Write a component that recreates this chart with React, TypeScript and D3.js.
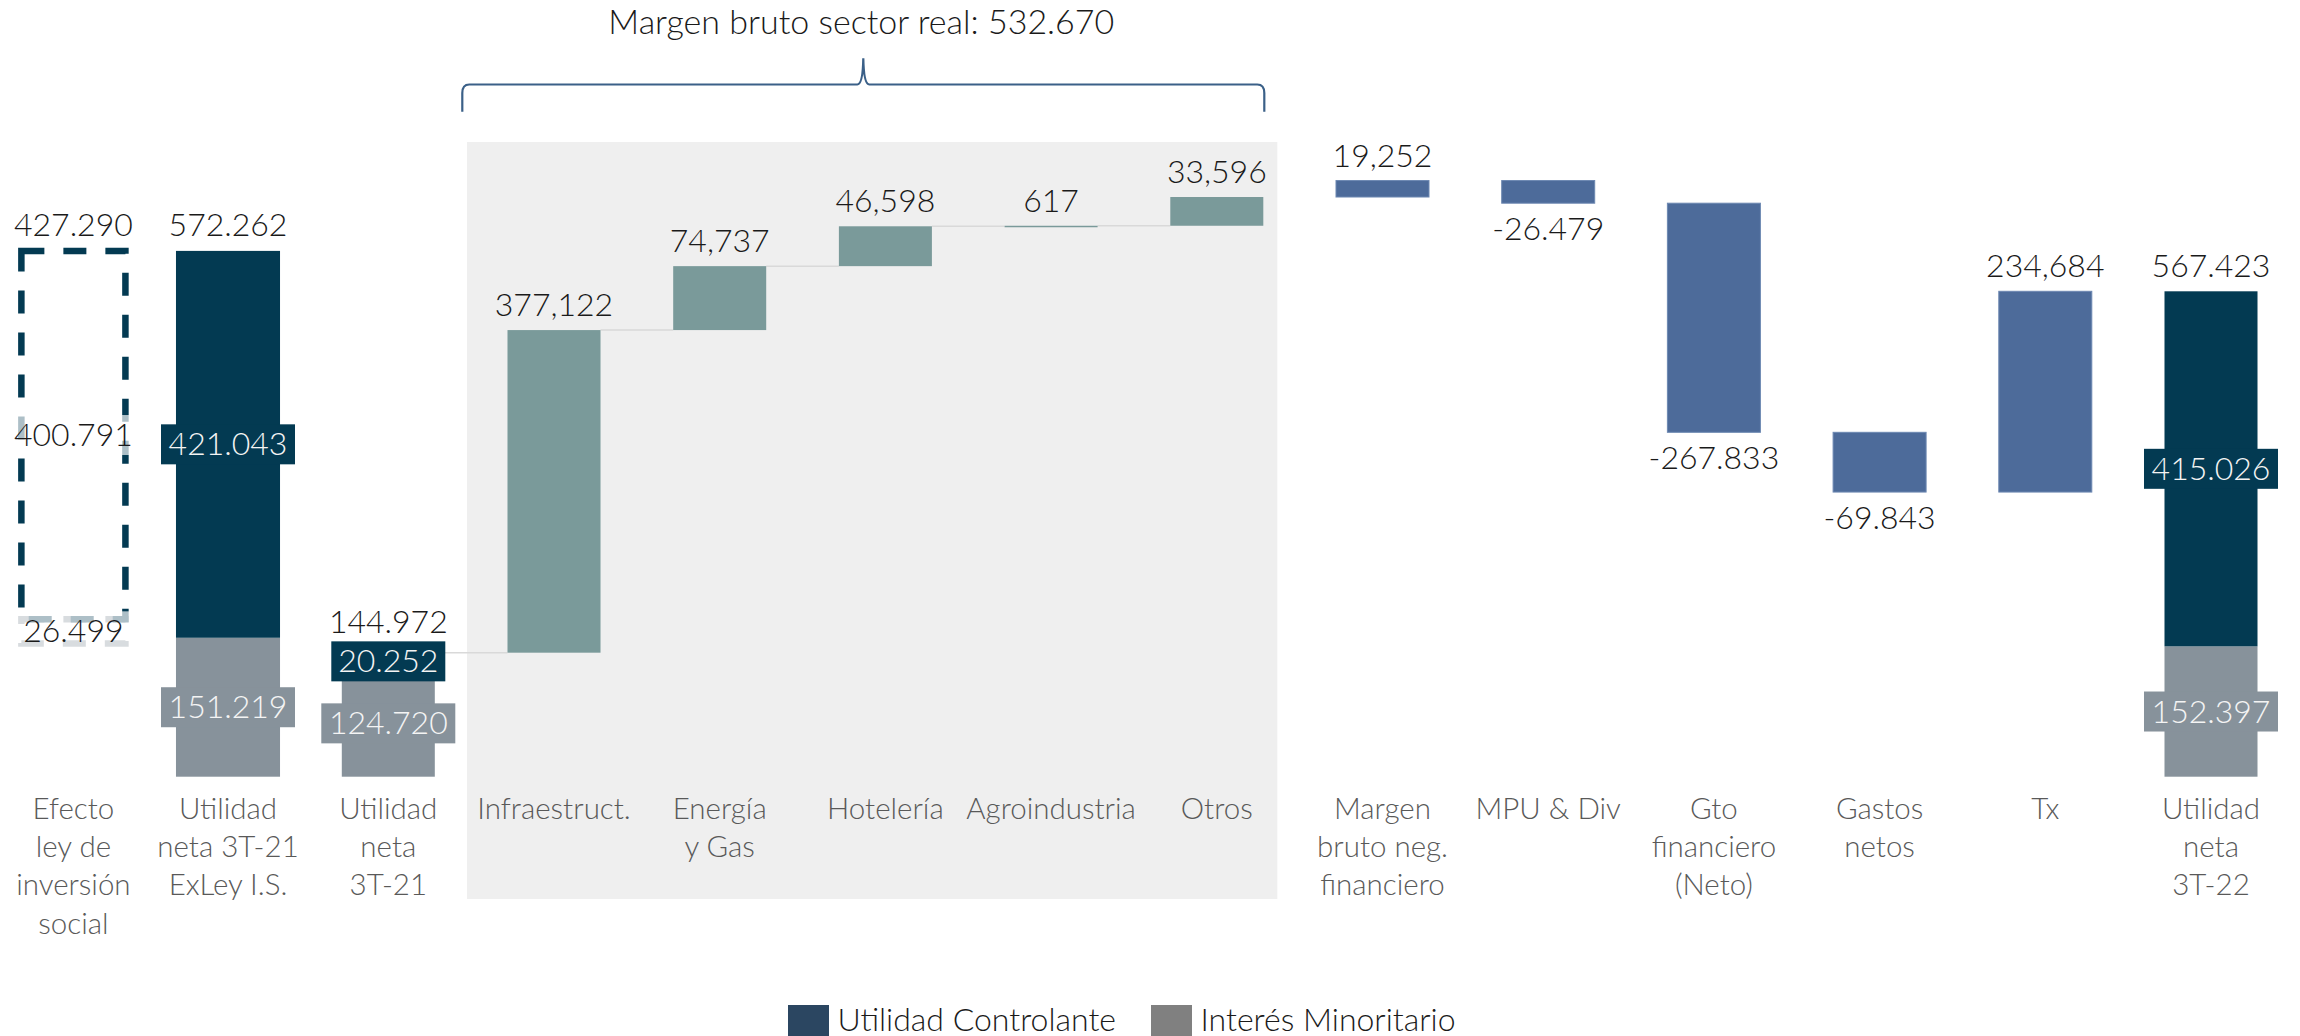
import React from "react";
import * as d3 from "d3";

// ---------- data ----------
const stackedCats = [
  "Efecto\nley de\ninversión\nsocial",
  "Utilidad\nneta 3T-21\nExLey I.S.",
  "Utilidad\nneta\n3T-21",
  "Utilidad\nneta\n3T-22",
];
const controlante = [400791, 421043, 20252, 415026];
const minoritario = [26499, 151219, 124720, 152397];

const sectorCats = ["Infraestruct.", "Energía\ny Gas", "Hotelería", "Agroindustria", "Otros"];
const sectorDeltas = [377122, 74737, 46598, 617, 33596];

const finCats = ["Margen\nbruto neg.\nfinanciero", "MPU & Div", "Gto\nfinanciero\n(Neto)", "Gastos\nnetos", "Tx"];
const finDeltas = [19252, -26479, -267833, -69843, 234684];

const legendItems = ["Utilidad Controlante", "Interés Minoritario"];
const titlePrefix = "Margen bruto sector real: ";

// ---------- style ----------
const W = 2300;
const H = 1036;
const FONT = "Lato, 'Open Sans', 'Noto Sans', sans-serif";
const C_DARK = "#033a52";
const C_GRAY = "#87929b";
const C_TEAL = "#7a9a9a";
const C_BLUE = "#4d6b9a";
const C_PANEL = "#efefef";
const C_CONN = "#d9d9d9";
const C_BRACE = "#3b6088";
const C_TEXT = "#1a1a1a";
const C_CAT = "#595959";
const LEG_COLORS = ["#2b4661", "#808080"];

const fmtDot = d3
  .formatLocale({ decimal: ",", thousands: ".", grouping: [3], currency: ["", ""], minus: "-" })
  .format(",d");
const fmtComma = d3
  .formatLocale({ decimal: ".", thousands: ",", grouping: [3], currency: ["", ""], minus: "-" })
  .format(",d");

const BASE_Y = 776.7;

export default function App() {
  // y scales (left panel drawn on its own scale as in the source slide)
  const exLeyTotal = controlante[1] + minoritario[1];
  const finalTotal = controlante[3] + minoritario[3];
  const yLeft = d3.scaleLinear().domain([0, exLeyTotal]).range([BASE_Y, 250.9]);
  const yMain = d3.scaleLinear().domain([0, finalTotal]).range([BASE_Y, 291.3]);

  const leftCats = [stackedCats[0], stackedCats[1]];
  const mainCats = [stackedCats[2], ...sectorCats, ...finCats, stackedCats[3]];
  const xLeft = d3.scaleBand<string>().domain(leftCats).range([-3.9, 305.3]).paddingInner(0.327).paddingOuter(0.1635);
  const xMain = d3
    .scaleBand<string>()
    .domain(mainCats)
    .range([305.45, 2293.85])
    .paddingInner(0.4387)
    .paddingOuter(0.21935);

  const bwL = xLeft.bandwidth();
  const bwM = xMain.bandwidth();

  // waterfall
  const start = controlante[2] + minoritario[2];
  let running = start;
  const sectorBars = sectorCats.map((c, i) => {
    const v0 = running;
    running += sectorDeltas[i];
    return { cat: c, v0, v1: running, delta: sectorDeltas[i] };
  });
  const sectorTotal = d3.sum(sectorDeltas);
  const finBars = finCats.map((c, i) => {
    const v0 = running;
    running += finDeltas[i];
    return { cat: c, v0, v1: running, delta: finDeltas[i] };
  });

  const boxW = (s: string) => 14 + 20 * s.replace(/[^0-9]/g, "").length;
  const BOX_H = 40;

  const elements: React.ReactNode[] = [];

  // panel background
  const panelX0 = (xMain(sectorCats[0]) as number) - 40.5;
  const panelX1 = (xMain(sectorCats[4]) as number) + bwM + 14;
  elements.push(<rect key="panel" x={panelX0} y={142} width={panelX1 - panelX0} height={899 - 142} fill={C_PANEL} />);

  // brace + title
  const bx0 = panelX0 - 4.7;
  const bx1 = panelX1 - 13;
  const bmid = (bx0 + bx1) / 2;
  const by = 84.5;
  const braceD = [
    `M ${bx0} 111.7`,
    `L ${bx0} 93`,
    `Q ${bx0} ${by} ${bx0 + 7} ${by}`,
    `L ${bmid - 6} ${by}`,
    `Q ${bmid - 0.5} ${by} ${bmid} 58.3`,
    `Q ${bmid + 0.5} ${by} ${bmid + 6} ${by}`,
    `L ${bx1 - 7} ${by}`,
    `Q ${bx1} ${by} ${bx1} 93`,
    `L ${bx1} 111.7`,
  ].join(" ");
  elements.push(<path key="brace" d={braceD} fill="none" stroke={C_BRACE} strokeWidth={2.2} />);
  elements.push(
    <text key="title" x={bmid - 2} y={34} textAnchor="middle" fontSize={34} fontWeight={300} fill={C_TEXT}>
      {titlePrefix + fmtDot(sectorTotal)}
    </text>
  );

  // connectors (middle group)
  const connSeq = [{ cat: stackedCats[2], v1: start }, ...sectorBars];
  for (let i = 0; i < connSeq.length - 1; i++) {
    const a = connSeq[i];
    const b = connSeq[i + 1];
    const yy = yMain(a.v1);
    elements.push(
      <line
        key={`conn${i}`}
        x1={(xMain(a.cat) as number) + bwM}
        x2={xMain(b.cat) as number}
        y1={yy}
        y2={yy}
        stroke={C_CONN}
        strokeWidth={1.5}
      />
    );
  }

  // ---------- dashed effect bar ----------
  {
    const x = xLeft(stackedCats[0]) as number;
    const base = start;
    const yMin = yLeft(base);
    const yMid = yLeft(base + minoritario[0]);
    const yTop = yLeft(base + minoritario[0] + controlante[0]);
    elements.push(
      <rect
        key="effMin"
        x={x}
        y={yMid}
        width={bwL}
        height={yMin - yMid}
        fill="none"
        stroke={C_GRAY}
        strokeWidth={6.5}
        strokeDasharray="23 19"
      />
    );
    elements.push(
      <rect
        key="effCtl"
        x={x}
        y={yTop}
        width={bwL}
        height={yMid - yTop}
        fill="none"
        stroke={C_DARK}
        strokeWidth={6.5}
        strokeDasharray="23 19"
      />
    );
    const cx = x + bwL / 2;
    const segs = [
      { v: controlante[0], cy: (yTop + yMid) / 2 },
      { v: minoritario[0], cy: (yMid + yMin) / 2 },
    ];
    segs.forEach((s, i) => {
      const t = fmtDot(s.v);
      const w = boxW(t);
      elements.push(
        <rect key={`effbox${i}`} x={cx - w / 2} y={s.cy - BOX_H / 2} width={w} height={BOX_H} fill="#ffffff" fillOpacity={0.68} />
      );
      elements.push(
        <text key={`efft${i}`} x={cx} y={s.cy + 11} textAnchor="middle" fontSize={32} fontWeight={300} fill={C_TEXT}>
          {t}
        </text>
      );
    });
    elements.push(
      <text key="efftot" x={cx} y={yTop - 14.5} textAnchor="middle" fontSize={32} fontWeight={300} fill={C_TEXT}>
        {fmtDot(controlante[0] + minoritario[0])}
      </text>
    );
  }

  // ---------- stacked totals ----------
  const stacked = [
    { idx: 1, x: xLeft(stackedCats[1]) as number, bw: bwL, y: yLeft },
    { idx: 2, x: xMain(stackedCats[2]) as number, bw: bwM, y: yMain },
    { idx: 3, x: xMain(stackedCats[3]) as number, bw: bwM, y: yMain },
  ];
  stacked.forEach(({ idx, x, bw, y }) => {
    const yMin0 = y(0);
    const yMid = y(minoritario[idx]);
    const yTop = y(minoritario[idx] + controlante[idx]);
    const cx = x + bw / 2;
    elements.push(<rect key={`min${idx}`} x={x} y={yMid} width={bw} height={yMin0 - yMid} fill={C_GRAY} />);
    elements.push(<rect key={`ctl${idx}`} x={x} y={yTop} width={bw} height={yMid - yTop} fill={C_DARK} />);
    const segs = [
      { v: minoritario[idx], cy: (yMid + yMin0) / 2, fill: C_GRAY },
      { v: controlante[idx], cy: (yTop + yMid) / 2, fill: C_DARK },
    ];
    let topBox = Infinity;
    segs.forEach((s, i) => {
      const t = fmtDot(s.v);
      const w = boxW(t);
      topBox = Math.min(topBox, s.cy - BOX_H / 2);
      elements.push(
        <rect key={`sb${idx}-${i}`} x={cx - w / 2} y={s.cy - BOX_H / 2} width={w} height={BOX_H} fill={s.fill} />
      );
      elements.push(
        <text key={`st${idx}-${i}`} x={cx} y={s.cy + 11} textAnchor="middle" fontSize={32} fontWeight={300} fill="#f4f4f4">
          {t}
        </text>
      );
    });
    elements.push(
      <text
        key={`tot${idx}`}
        x={cx}
        y={Math.min(yTop - 14.5, topBox - 8)}
        textAnchor="middle"
        fontSize={32}
        fontWeight={300}
        fill={C_TEXT}
      >
        {fmtDot(minoritario[idx] + controlante[idx])}
      </text>
    );
  });

  // ---------- waterfall deltas ----------
  const deltaBars = [
    ...sectorBars.map((b) => ({ ...b, color: C_TEAL, stroke: "none" })),
    ...finBars.map((b) => ({ ...b, color: C_BLUE, stroke: "#6d88b2" })),
  ];
  deltaBars.forEach((b, i) => {
    const x = xMain(b.cat) as number;
    const yA = yMain(Math.max(b.v0, b.v1));
    const yB = yMain(Math.min(b.v0, b.v1));
    const h = Math.max(yB - yA, 1.5);
    const cx = x + bwM / 2;
    elements.push(
      <rect
        key={`wf${i}`}
        x={x}
        y={yA}
        width={bwM}
        height={h}
        fill={b.color}
        stroke={b.stroke}
        strokeWidth={b.stroke === "none" ? 0 : 1}
      />
    );
    const pos = b.delta >= 0;
    elements.push(
      <text
        key={`wft${i}`}
        x={cx}
        y={pos ? yA - 14 : yA + h + 37}
        textAnchor="middle"
        fontSize={32}
        fontWeight={300}
        fill={C_TEXT}
      >
        {pos ? fmtComma(b.delta) : fmtDot(b.delta)}
      </text>
    );
  });

  // ---------- category labels ----------
  const catPos: { cat: string; cx: number }[] = [
    ...leftCats.map((c) => ({ cat: c, cx: (xLeft(c) as number) + bwL / 2 })),
    ...mainCats.map((c) => ({ cat: c, cx: (xMain(c) as number) + bwM / 2 })),
  ];
  catPos.forEach(({ cat, cx }, i) => {
    const lines = cat.split("\n");
    elements.push(
      <text key={`cat${i}`} x={cx} y={819} textAnchor="middle" fontSize={29.5} fontWeight={300} fill={C_CAT}>
        {lines.map((l, j) => (
          <tspan key={j} x={cx} y={819 + j * 38.2}>
            {l}
          </tspan>
        ))}
      </text>
    );
  });

  // ---------- legend ----------
  const legX = [788, 1151];
  legendItems.forEach((name, i) => {
    elements.push(<rect key={`lg${i}`} x={legX[i]} y={1005} width={41} height={41} fill={LEG_COLORS[i]} />);
    elements.push(
      <text key={`lgt${i}`} x={legX[i] + 49.5} y={1030.5} fontSize={32} fontWeight={300} fill={C_TEXT}>
        {name}
      </text>
    );
  });

  return (
    <div style={{ position: "absolute", left: 0, top: 0, width: W, height: H, background: "#ffffff" }}>
      <svg width={W} height={H} viewBox={`0 0 ${W} ${H}`} style={{ display: "block", fontFamily: FONT }}>
        <rect x={0} y={0} width={W} height={H} fill="#ffffff" />
        {elements}
      </svg>
    </div>
  );
}
